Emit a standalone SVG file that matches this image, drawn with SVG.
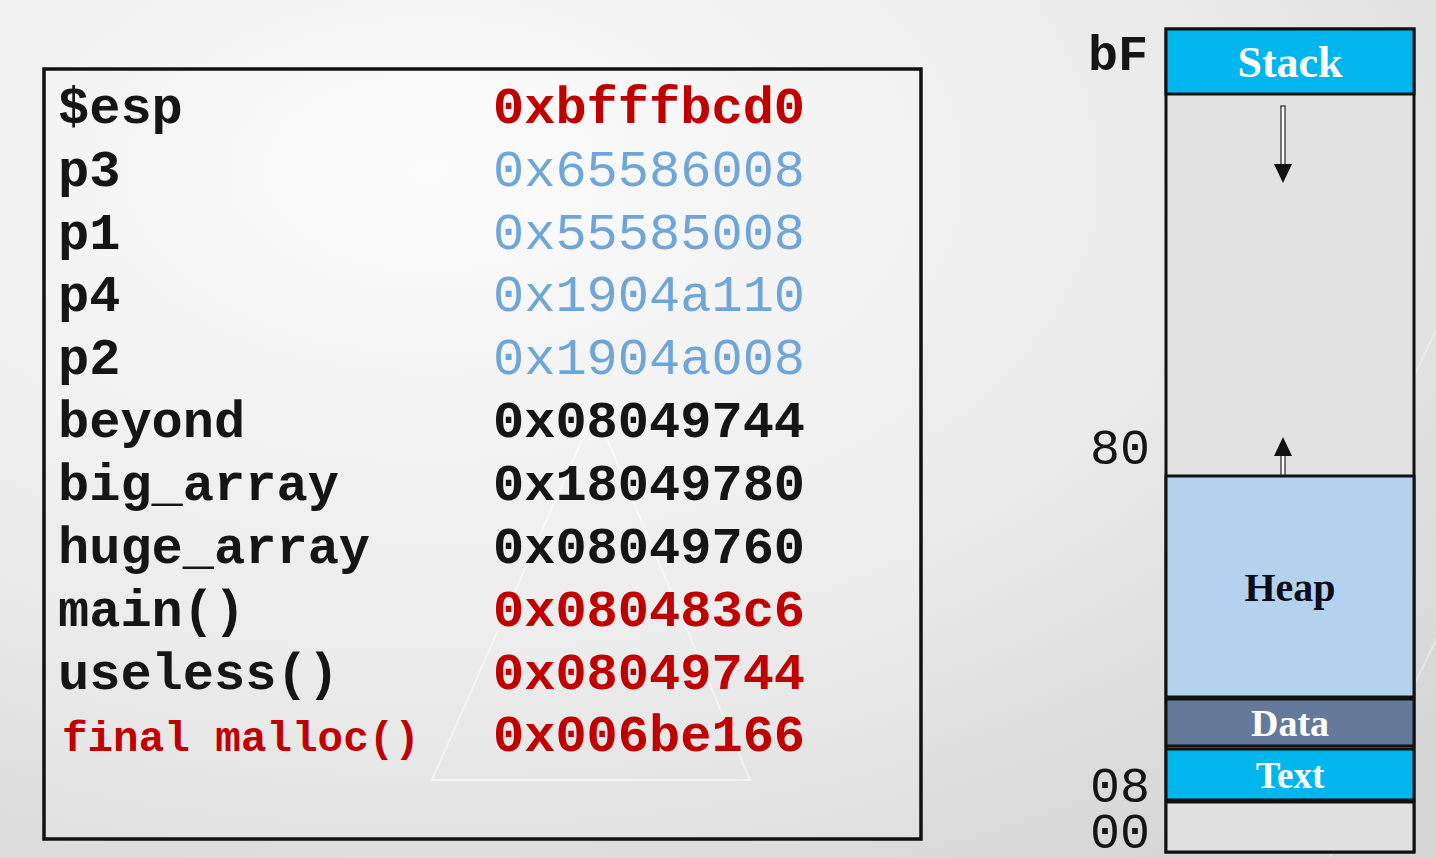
<svg xmlns="http://www.w3.org/2000/svg" width="1436" height="858" viewBox="0 0 1436 858">
  <defs>
    <radialGradient id="bg" cx="0.3" cy="0.2" r="0.95">
      <stop offset="0" stop-color="#fbfbfb"/>
      <stop offset="0.6" stop-color="#e9e9e9"/>
      <stop offset="1" stop-color="#d6d6d6"/>
    </radialGradient>
    <style>
      .lbl { font-family: "Liberation Mono", "Courier New", monospace; font-weight: bold; font-size: 52px; fill: #151515; }
      .addr { font-family: "Liberation Mono", "Courier New", monospace; font-size: 52px; }
      .red { fill: #c00000; }
      .blue { fill: #6fa6d8; }
      .blk { fill: #151515; }
      .seg { stroke: #111; stroke-width: 3; }
      .segtxt { font-family: "Liberation Serif", "Times New Roman", serif; font-weight: bold; text-anchor: middle; }
      .addrlbl { font-family: "Liberation Mono", "Courier New", monospace; font-size: 50px; fill: #151515; }
    </style>
  </defs>
  <rect x="0" y="0" width="1436" height="858" fill="url(#bg)"/>
  <g stroke="#ffffff" stroke-opacity="0.5" stroke-width="2" fill="none">
    <path d="M432 780 L595 410 L750 780 Z"/>
    <path d="M1330 858 L1436 640" stroke-opacity="0.35"/>
    <path d="M1370 470 L1436 330" stroke-opacity="0.35"/>
  </g>

  <g id="table">
    <rect x="44" y="69" width="877" height="770" fill="#ffffff" fill-opacity="0.15" stroke="#111" stroke-width="3.5"/>
    <text class="lbl" x="58" y="123">$esp</text>
    <text class="lbl" x="58" y="186">p3</text>
    <text class="lbl" x="58" y="249">p1</text>
    <text class="lbl" x="58" y="311">p4</text>
    <text class="lbl" x="58" y="374">p2</text>
    <text class="lbl" x="58" y="437">beyond</text>
    <text class="lbl" x="58" y="500">big_array</text>
    <text class="lbl" x="58" y="563">huge_array</text>
    <text class="lbl" x="58" y="626">main()</text>
    <text class="lbl" x="58" y="689">useless()</text>
    <text class="lbl red" x="62" y="751" style="font-size:42.6px">final malloc()</text>

    <text class="addr red" x="493" y="123" font-weight="bold">0xbfffbcd0</text>
    <text class="addr blue" x="493" y="186">0x65586008</text>
    <text class="addr blue" x="493" y="249">0x55585008</text>
    <text class="addr blue" x="493" y="311">0x1904a110</text>
    <text class="addr blue" x="493" y="374">0x1904a008</text>
    <text class="addr blk" x="493" y="437" font-weight="bold">0x08049744</text>
    <text class="addr blk" x="493" y="500" font-weight="bold">0x18049780</text>
    <text class="addr blk" x="493" y="563" font-weight="bold">0x08049760</text>
    <text class="addr red" x="493" y="626" font-weight="bold">0x080483c6</text>
    <text class="addr red" x="493" y="689" font-weight="bold">0x08049744</text>
    <text class="addr red" x="493" y="751" font-weight="bold">0x006be166</text>
  </g>

  <g id="memory">
    <rect class="seg" x="1166" y="29" width="248" height="823" fill="#e2e2e2"/>
    <rect id="stack" class="seg" x="1166" y="29" width="248" height="65" fill="#00b6ec"/>
    <text class="segtxt" x="1290" y="77" font-size="44" fill="#ffffff">Stack</text>
    <rect id="heap" class="seg" x="1166" y="476" width="248" height="221" fill="#b4d2ee"/>
    <text class="segtxt" x="1290" y="601" font-size="40" fill="#0d0d1a">Heap</text>
    <rect id="data" class="seg" x="1166" y="699" width="248" height="47" fill="#65799b"/>
    <text class="segtxt" x="1290" y="736" font-size="38" fill="#ffffff">Data</text>
    <rect id="text" class="seg" x="1166" y="749" width="248" height="51" fill="#00b6ec"/>
    <text class="segtxt" x="1290" y="788" font-size="37" fill="#ffffff">Text</text>
    <rect class="seg" x="1166" y="802" width="248" height="50" fill="#e0e0e0"/>
  </g>

  <g id="addr-labels">
    <text class="addrlbl" x="1088" y="70" font-weight="bold">bF</text>
    <text class="addrlbl" x="1090" y="464">80</text>
    <text class="addrlbl" x="1090" y="802">08</text>
    <text class="addrlbl" x="1090" y="848">00</text>
  </g>

  <g id="connectors">
    <rect x="1281" y="106" width="4" height="60" fill="#ffffff" stroke="#222" stroke-width="1.2"/>
    <path d="M1274 164 L1292 164 L1283 183 Z" fill="#111"/>
    <rect x="1281" y="454" width="4" height="21" fill="#ffffff" stroke="#222" stroke-width="1.2"/>
    <path d="M1274 456 L1292 456 L1283 437 Z" fill="#111"/>
  </g>
</svg>
